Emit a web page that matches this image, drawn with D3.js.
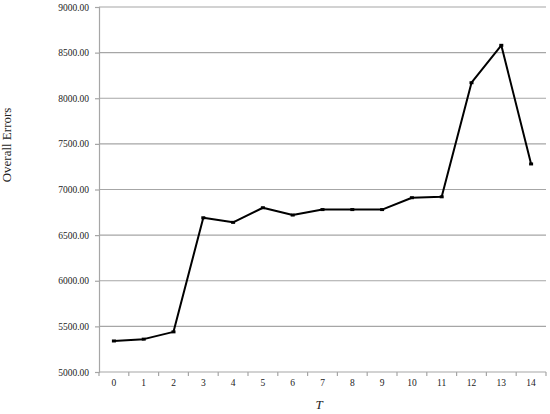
<!doctype html>
<html>
<head>
<meta charset="utf-8">
<script src="https://cdn.jsdelivr.net/npm/d3@7"></script>
<style type="text/css">
html,body{
    margin: 0;
    overflow: hidden;
    background: #fff;
}
</style>
</head>
<body>
<script type="text/javascript">
// chart values
var categories = ["0","1","2","3","4","5","6","7","8","9","10","11","12","13","14"];
var errors = [5340, 5360, 5440, 6690, 6640, 6800, 6720, 6780, 6780, 6780, 6910, 6920, 8170, 8580, 7280];
var yTicks = [5000, 5500, 6000, 6500, 7000, 7500, 8000, 8500, 9000];

(function(){
    var w = 550,
        h = 414,
        left = 99,
        right = 546,
        top = 7,
        bottom = 372,
        serif = "'Liberation Serif', 'Times New Roman', Times, serif",
        gray = "#a6a6a6";

    var svg = d3.select("body").append("svg")
        .attr("width", w)
        .attr("height", h)
        .attr("font-family", serif);

    var x = d3.scaleBand().domain(categories).range([left, right]);
    var y = d3.scaleLinear().domain([5000, 9000]).range([bottom, top]);

    // gridlines
    svg.append("g").selectAll("line")
        .data(yTicks.slice(1))
        .enter().append("line")
            .attr("x1", left).attr("x2", right)
            .attr("y1", function(d){return y(d)})
            .attr("y2", function(d){return y(d)})
            .attr("stroke", gray)
            .attr("stroke-width", 1.2);

    var yAxis = svg.append("g")
        .attr("transform", "translate(" + left + ",0)")
        .call(d3.axisLeft(y).tickValues(yTicks).tickSize(4).tickPadding(6)
            .tickFormat(function(d){return d.toFixed(2)}));
    yAxis.attr("font-family", serif).attr("font-size", 9.5);
    yAxis.selectAll("path, line").attr("stroke", gray).attr("stroke-width", 1.2);
    yAxis.selectAll("text").attr("fill", "#222");

    // x axis with ticks between categories
    var xAxis = svg.append("g")
        .attr("transform", "translate(0," + bottom + ")");
    xAxis.append("line")
        .attr("x1", left).attr("x2", right)
        .attr("stroke", gray).attr("stroke-width", 1.2);
    xAxis.selectAll("line.tick")
        .data(categories.concat(["end"]))
        .enter().append("line")
            .attr("class", "tick")
            .attr("x1", function(d, i){return left + i * x.step()})
            .attr("x2", function(d, i){return left + i * x.step()})
            .attr("y1", 0).attr("y2", 4)
            .attr("stroke", gray).attr("stroke-width", 1.2);
    xAxis.selectAll("text")
        .data(categories)
        .enter().append("text")
            .attr("x", function(d){return x(d) + x.bandwidth()/2})
            .attr("y", 14)
            .attr("text-anchor", "middle")
            .attr("font-size", 9.5)
            .attr("fill", "#222")
            .text(function(d){return d});

    // axis titles
    svg.append("text")
        .attr("x", 319).attr("y", 409)
        .attr("text-anchor", "middle")
        .attr("font-size", 13)
        .attr("font-style", "italic")
        .attr("fill", "#222")
        .text("T");
    svg.append("text")
        .attr("transform", "translate(11,145) rotate(-90)")
        .attr("text-anchor", "middle")
        .attr("font-size", 13)
        .attr("fill", "#222")
        .text("Overall Errors");

    // series line
    var line = d3.line()
        .x(function(d, i){return x(categories[i]) + x.bandwidth()/2})
        .y(function(d){return y(d)});
    svg.append("path")
        .datum(errors)
        .attr("d", line)
        .attr("fill", "none")
        .attr("stroke", "#000")
        .attr("stroke-width", 2)
        .attr("stroke-linejoin", "round");

    svg.selectAll("rect.mark")
        .data(errors)
        .enter().append("rect")
            .attr("class", "mark")
            .attr("x", function(d, i){return x(categories[i]) + x.bandwidth()/2 - 2})
            .attr("y", function(d){return y(d) - 1.5})
            .attr("width", 4).attr("height", 3)
            .attr("fill", "#000");
})();
</script>
</body>
</html>
